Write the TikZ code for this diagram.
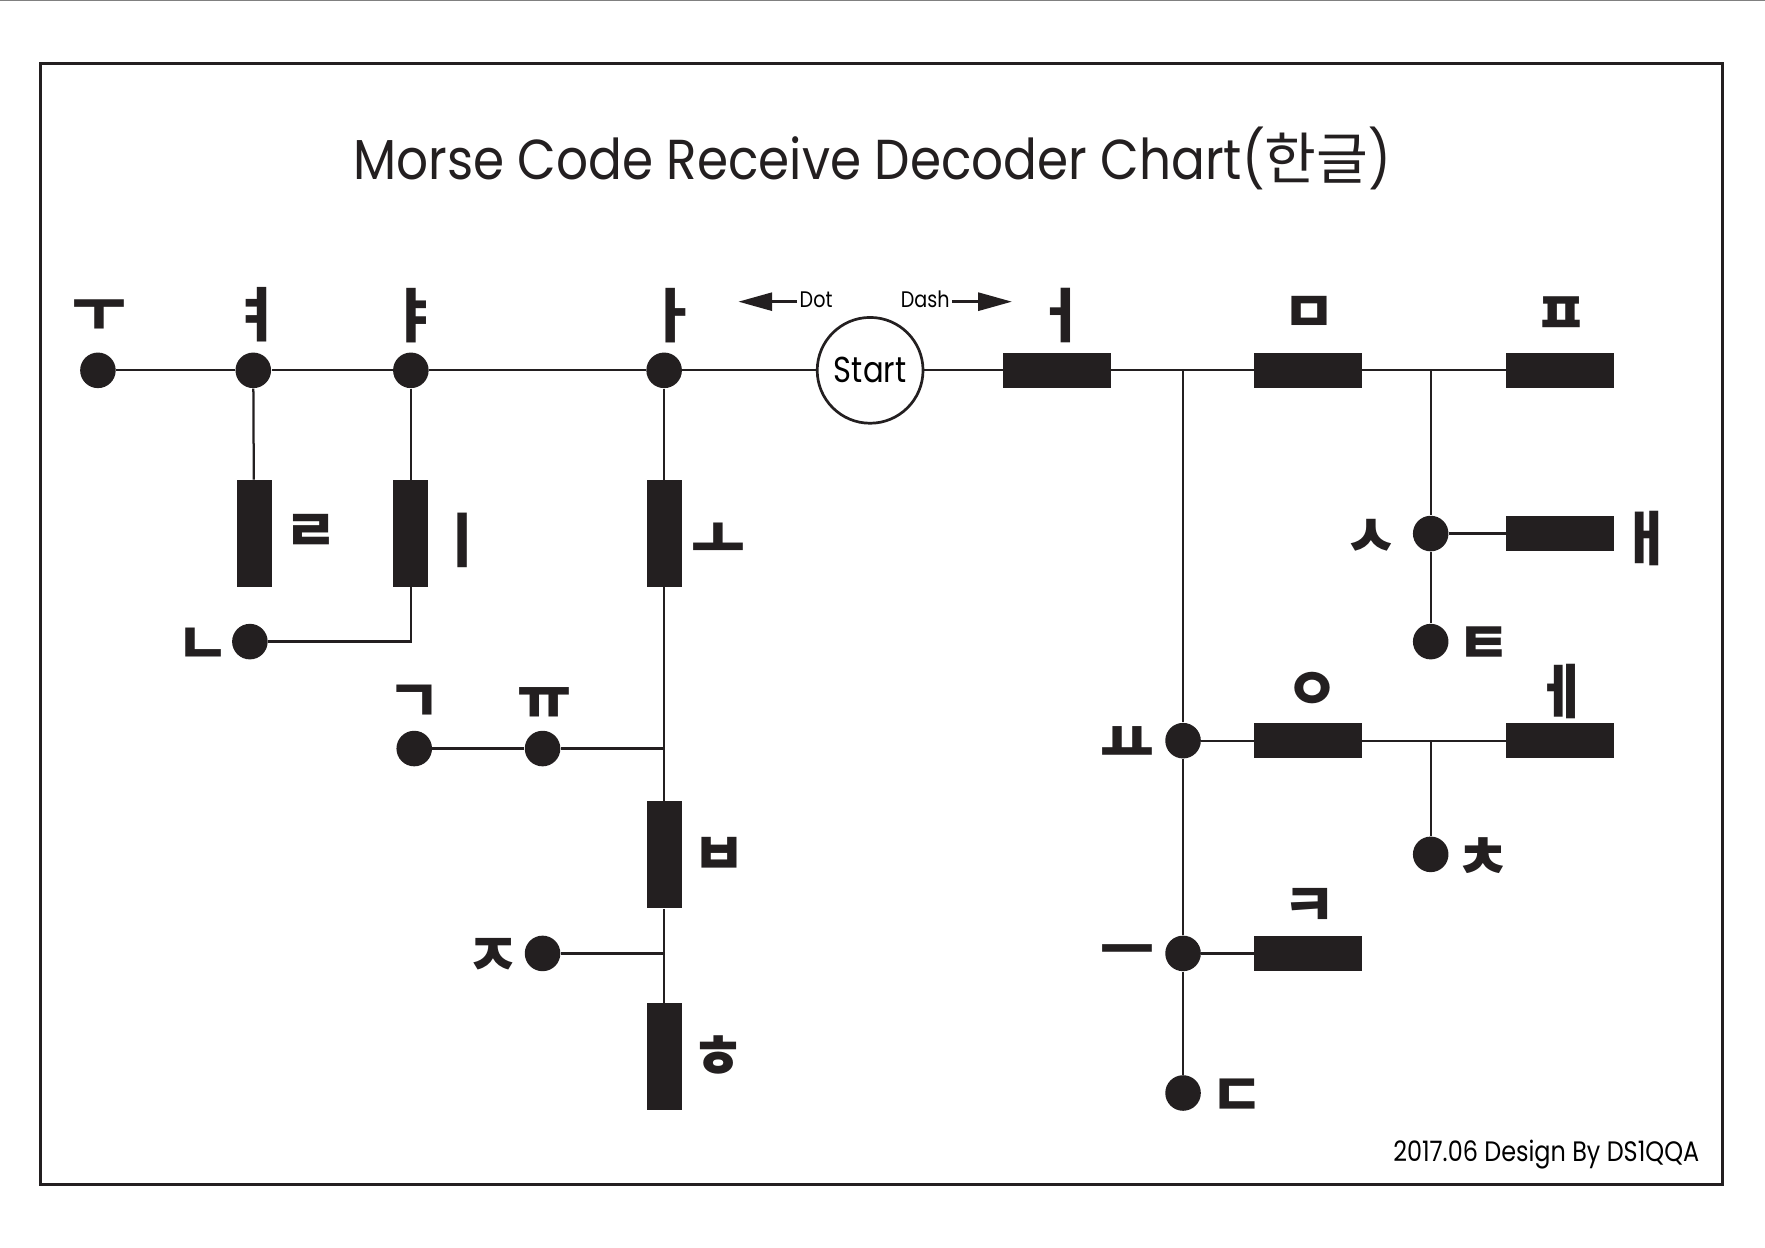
\documentclass[tikz,border=0pt]{standalone}
\usepackage{fontspec}
\setmainfont{Poppins}
\newfontfamily\krfont{Noto Sans CJK KR}
\newfontfamily\thinfont[FakeStretch=0.85]{Poppins}
\newfontfamily\titlefont[FakeStretch=0.89]{Poppins}
\usetikzlibrary{arrows.meta}
\definecolor{ink}{RGB}{35,31,32}
\tikzset{
  dotnode/.style={circle,fill=ink,inner sep=0pt,minimum size=15.8pt},
  hdash/.style={rectangle,fill=ink,inner sep=0pt,minimum width=48pt,minimum height=15.5pt},
  vdash/.style={rectangle,fill=ink,inner sep=0pt,minimum width=15.5pt,minimum height=47.5pt},
  jamo/.style={inner sep=0pt,yshift=-2pt,font=\krfont\bfseries\fontsize{26pt}{26pt}\selectfont,text=ink},
  wire/.style={draw=ink,line width=1pt}
}
\begin{document}
\begin{tikzpicture}[x=0.5pt,y=0.5pt,yscale=-1,xscale=1]
\useasboundingbox (0,0) rectangle (1568,1108);
%top edge line
\draw[gray,line width=0.6pt] (0,0.6) -- (1568,0.6);
%Shape: Rectangle frame
\draw[ink,line width=1.35pt] (36,56) rectangle (1530,1052);

% Text Node
\node[text=ink] (title) at (775,141) {\titlefont\fontsize{25pt}{30pt}\selectfont Morse Code Receive Decoder Chart({\krfont 한글})};

%Start circle
\node[circle,draw=ink,line width=1.2pt,minimum size=47pt,inner sep=0pt,font=\thinfont\fontsize{16pt}{16pt}\selectfont] (start) at (773,329) {Start};

%Dots on the main line
\node[dotnode] (u) at (87,329) {};
\node[dotnode] (yeo) at (225,329) {};
\node[dotnode] (ya) at (365,329) {};
\node[dotnode] (a) at (590,329) {};
%Dashes on the main line
\node[hdash] (eo) at (939,329) {};
\node[hdash] (m) at (1162,329) {};
\node[hdash] (p) at (1386,329) {};
\coordinate (j1) at (1051,329);
\coordinate (j2) at (1271,329);

%Left branches
\node[vdash] (r) at (225.7,474) {};
\node[vdash] (i) at (365,474) {};
\node[vdash] (o) at (590,474) {};
\node[dotnode] (n) at (222,570) {};
\coordinate (c1) at (365,570);
\node[dotnode] (g) at (368,665) {};
\node[dotnode] (yu) at (482,665) {};
\coordinate (j3) at (590,665);
\node[vdash] (b) at (590,759.5) {};
\node[dotnode] (j) at (482,847) {};
\coordinate (j4) at (590,847);
\node[vdash] (h) at (590,938.5) {};

%Right branches
\node[dotnode] (s) at (1271,474) {};
\node[hdash] (ae) at (1386,474) {};
\node[dotnode] (t) at (1271,570) {};
\node[dotnode] (yo) at (1051,658) {};
\node[hdash] (ng) at (1162,658) {};
\coordinate (j5) at (1271,658);
\node[hdash] (e) at (1386,658) {};
\node[dotnode] (ch) at (1271,759) {};
\node[dotnode] (eu) at (1051,847) {};
\node[hdash] (k) at (1162,847) {};
\node[dotnode] (d) at (1051,971) {};

%Connectors
\draw[wire] (u) -- (yeo) -- (ya) -- (a) -- (start) -- (eo) -- (j1) -- (m) -- (j2) -- (p);
\draw[wire] (yeo) -- (r);
\draw[wire] (ya) -- (i);
\draw[wire] (i) -- (c1) -- (n);
\draw[wire] (a) -- (o) -- (j3) -- (b) -- (j4) -- (h);
\draw[wire] (j3) -- (yu) -- (g);
\draw[wire] (j4) -- (j);
\draw[wire] (j1) -- (yo) -- (eu) -- (d);
\draw[wire] (j2) -- (s) -- (t);
\draw[wire] (s) -- (ae);
\draw[wire] (yo) -- (ng) -- (j5) -- (e);
\draw[wire] (j5) -- (ch);
\draw[wire] (eu) -- (k);

%Dot / Dash arrows
\node[font=\thinfont\fontsize{10pt}{10pt}\selectfont,inner sep=1pt] (dotlab) at (725,266) {Dot};
\node[font=\thinfont\fontsize{10pt}{10pt}\selectfont,inner sep=1pt] (dashlab) at (822,266) {Dash};
\coordinate (dotend) at (656,268);
\coordinate (dashend) at (899,268);
\draw[ink,line width=1.2pt,-{Triangle[length=15pt,width=8pt]}] (dotlab.west |- dotend) -- (dotend);
\draw[ink,line width=1.2pt,-{Triangle[length=15pt,width=8pt]}] (dashlab.east |- dashend) -- (dashend);

% Text Node
\node[jamo] (lu) at (88,276) {ㅜ};
\node[jamo] (lyeo) at (228,276) {ㅕ};
\node[jamo] (lya) at (368,276) {ㅑ};
\node[jamo] (la) at (597,276) {ㅏ};
\node[jamo] (leo) at (942,276) {ㅓ};
\node[jamo] (lm) at (1163,276) {ㅁ};
\node[jamo] (lp) at (1387,276) {ㅍ};
\node[jamo] (lr) at (277,470) {ㄹ};
\node[jamo] (li) at (411,476) {ㅣ};
\node[jamo] (lo) at (638,477) {ㅗ};
\node[jamo] (ln) at (181,571) {ㄴ};
\node[jamo] (lg) at (368,621) {ㄱ};
\node[jamo] (lyu) at (484,621) {ㅠ};
\node[jamo] (lb) at (639,757) {ㅂ};
\node[jamo] (lj) at (438,847) {ㅈ};
\node[jamo] (lh) at (638,935) {ㅎ};
\node[jamo] (ls) at (1218,474) {ㅅ};
\node[jamo] (lae) at (1463,474) {ㅐ};
\node[jamo] (lt) at (1319,570) {ㅌ};
\node[jamo] (lng) at (1166,610) {ㅇ};
\node[jamo] (le) at (1387,610) {ㅔ};
\node[jamo] (lyo) at (1002,658) {ㅛ};
\node[jamo] (lch) at (1318,759) {ㅊ};
\node[jamo] (leu) at (1002,847) {ㅡ};
\node[jamo] (lk) at (1163,802) {ㅋ};
\node[jamo] (ld) at (1099,971) {ㄷ};

% Text Node
\node[anchor=east,inner sep=0pt,font=\thinfont\fontsize{12.5pt}{12.5pt}\selectfont] (credit) at (1510,1026) {2017.06 Design By DS1QQA};

\end{tikzpicture}
\end{document}
